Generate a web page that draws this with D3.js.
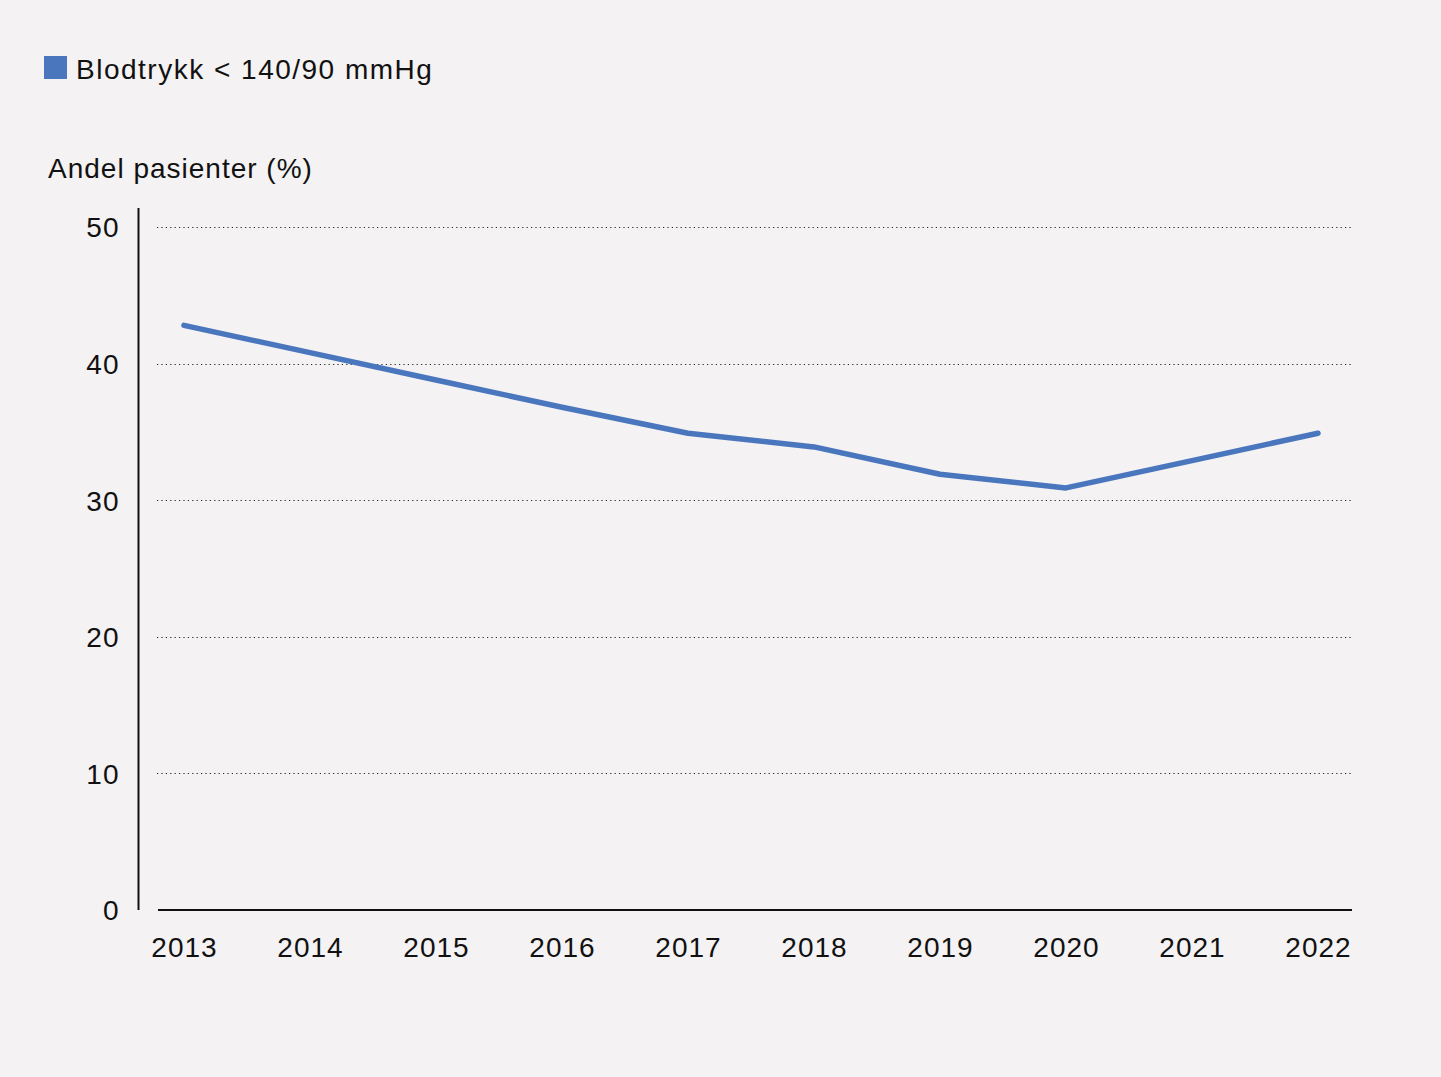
<!DOCTYPE html>
<html>
<head>
<meta charset="utf-8">
<script src="https://cdn.jsdelivr.net/npm/d3@7"></script>
<style>
  body { margin: 0; background: #f4f2f3; }
  svg { display: block; }
  text { font-family: "Liberation Sans", Arial, sans-serif; fill: #111; letter-spacing: 1px; }
</style>
</head>
<body>
<div id="chart"></div>
<script>
// data
const years = [2013, 2014, 2015, 2016, 2017, 2018, 2019, 2020, 2021, 2022];
const values = [42.8, 40.8, 38.8, 36.8, 34.9, 33.9, 31.9, 30.9, 32.9, 34.9];
const yTicks = [0, 10, 20, 30, 40, 50];
const seriesName = "Blodtrykk < 140/90 mmHg";
const yTitle = "Andel pasienter (%)";

const width = 1441, height = 1077;
const svg = d3.select("#chart").append("svg")
  .attr("width", width)
  .attr("height", height);

svg.append("rect").attr("width", width).attr("height", height).attr("fill", "#f4f2f3");

const x = d3.scalePoint()
  .domain(years)
  .range([184, 1318]);

const y = d3.scaleLinear()
  .domain([0, 50])
  .range([910, 227]);

// gridlines (dotted)
svg.append("g")
  .selectAll("line")
  .data(yTicks.filter(d => d > 0))
  .join("line")
    .attr("x1", 157)
    .attr("x2", 1352)
    .attr("y1", d => Math.round(y(d)) + 0.5)
    .attr("y2", d => Math.round(y(d)) + 0.5)
    .attr("stroke", "#222")
    .attr("stroke-width", 1.2)
    .attr("stroke-dasharray", "1.2 3.2");

// y axis
const yAxis = svg.append("g")
  .attr("transform", "translate(138.5,0)")
  .call(d3.axisLeft(y).tickValues(yTicks).tickSize(0).tickPadding(19));
yAxis.select(".domain").attr("d", `M0,208V${y(0)}`).attr("stroke", "#111").attr("stroke-width", 2);
yAxis.selectAll("text")
  .style("font-size", "28px")
  .attr("dy", "0.35em");

// x axis
const xAxis = svg.append("g")
  .attr("transform", `translate(0,${y(0)})`)
  .call(d3.axisBottom(x).tickSize(0).tickPadding(27).tickFormat(d3.format("d")));
xAxis.select(".domain").attr("d", "M158,0H1352").attr("stroke", "#111").attr("stroke-width", 2);
xAxis.selectAll("text").style("font-size", "28px");

// axis title
svg.append("text")
  .attr("x", 48)
  .attr("y", 178)
  .style("font-size", "28px")
  .text(yTitle);

// line
const line = d3.line()
  .x((d, i) => x(years[i]))
  .y(d => y(d));

svg.append("path")
  .datum(values)
  .attr("d", line)
  .attr("fill", "none")
  .attr("stroke", "#4a76be")
  .attr("stroke-width", 5.5)
  .attr("stroke-linecap", "round")
  .attr("stroke-linejoin", "round");

// legend
const legend = svg.append("g").attr("transform", "translate(44,56)");
legend.append("rect")
  .attr("width", 23)
  .attr("height", 23)
  .attr("fill", "#4a76be");
legend.append("text")
  .attr("x", 32)
  .attr("y", 23)
  .style("font-size", "28px")
  .style("letter-spacing", "1.5px")
  .text(seriesName);
</script>
</body>
</html>
